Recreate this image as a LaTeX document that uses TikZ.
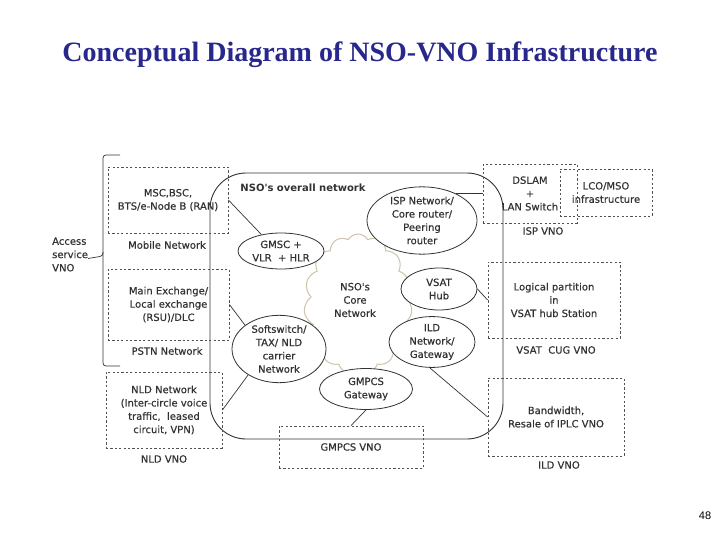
\documentclass[tikz,border=0pt]{standalone}
\usepackage{fontspec}
\setmainfont{Liberation Serif}
\newfontfamily\lab[FakeBold=0.5]{DejaVu Sans}
\newfontfamily\labb{DejaVu Sans}
\newfontfamily\pnum{Liberation Sans}
\usetikzlibrary{shapes.geometric,shapes.symbols}
\definecolor{titleblue}{RGB}{40,40,140}
\definecolor{ink}{RGB}{50,50,50}
\definecolor{cloudc}{RGB}{205,196,170}
\begin{document}
\begin{tikzpicture}[x=1pt,y=-1pt,
  lbl/.style={font=\lab\fontsize{10}{13.3}\selectfont, text=ink, align=center, inner sep=0pt},
  dbox/.style={lbl, draw=ink!85, dashed, dash pattern=on 2.2pt off 2.2pt, line width=0.8pt, rectangle},
  ell/.style={lbl, ellipse, draw=ink, fill=white, line width=0.8pt},
  wire/.style={draw=ink, line width=0.7pt}]
\useasboundingbox (0,0) rectangle (720,540);
% title
\node[font=\fontsize{28}{32}\selectfont\bfseries, text=titleblue, inner sep=0pt] (title) at (360,55) {Conceptual Diagram of NSO-VNO Infrastructure};
% big rounded frame
\node[draw=ink, line width=0.9pt, rounded corners=36pt, minimum width=293pt, minimum height=266pt, inner sep=0pt] (nso) at (356.5,306) {};
\node[lbl, font=\labb\bfseries\fontsize{10}{12}\selectfont] (nsolbl) at (303,188) {NSO's overall network};
% cloud
\node[cloud, cloud puffs=15, cloud puff arc=120, aspect=0.78, draw=cloudc, fill=white, line width=1pt, minimum width=108pt, minimum height=140pt, inner sep=0pt] (core) at (358,304) {};
\node[lbl] (corelbl) at (355,300) {NSO's\\Core\\Network};
% ellipses
\node[ell, minimum width=86pt, minimum height=36pt] (gmsc) at (281,251) {GMSC +\\VLR\ \ + HLR};
\node[ell, minimum width=110pt, minimum height=61pt] (isp) at (422,220.5) {ISP Network/\\Core router/\\Peering\\router};
\node[ell, minimum width=76pt, minimum height=42pt] (vsat) at (439,289) {VSAT\\Hub};
\node[ell, minimum width=86pt, minimum height=44pt] (ild) at (432,342) {ILD\\Network/\\Gateway};
\node[ell, minimum width=94pt, minimum height=57pt] (soft) at (279,349) {Softswitch/\\TAX/ NLD\\carrier\\Network};
\node[ell, minimum width=93pt, minimum height=41pt] (gmpcs) at (366,389) {GMPCS\\Gateway};
% left boxes
\node[dbox, minimum width=120pt, minimum height=66pt] (mob) at (168,200) {MSC,BSC,\\BTS/e-Node B (RAN)};
\node[lbl] (mobl) at (167,245) {Mobile Network};
\node[dbox, minimum width=121pt, minimum height=71pt] (pstn) at (168.5,304.5) {Main Exchange/\\Local exchange\\(RSU)/DLC};
\node[lbl] (pstnl) at (167,351) {PSTN Network};
\node[dbox, minimum width=116pt, minimum height=76pt] (nld) at (164,410) {NLD Network\\(Inter-circle voice\\traffic,\ \ leased\\circuit, VPN)};
\node[lbl] (nldl) at (164,459) {NLD VNO};
% access bracket
\node[lbl, align=left, anchor=west] (acc) at (52,254.5) {Access\\service\\VNO};
\draw[wire, rounded corners=3pt] (120,155) -- (103,155) -- (103,256) -- (88,258.5);
\draw[wire, rounded corners=3pt] (103,252) -- (103,366) -- (120,366);
% right boxes
\node[dbox, minimum width=94pt, minimum height=59pt] (dslam) at (530,193.5) {DSLAM\\+\\LAN Switch};
\node[lbl] (ispl) at (543,231) {ISP VNO};
\node[dbox, minimum width=92pt, minimum height=47pt] (lco) at (606,192.5) {LCO/MSO\\infrastructure};
\node[dbox, minimum width=132pt, minimum height=76pt] (vsatb) at (554,300) {Logical partition\\in\\VSAT hub Station};
\node[lbl] (vsatl) at (556,350) {VSAT\ \ CUG VNO};
\node[dbox, minimum width=136pt, minimum height=78pt] (ildb) at (556,417) {Bandwidth,\\Resale of IPLC VNO};
\node[lbl] (ildl) at (559,465) {ILD VNO};
\node[dbox, minimum width=144pt, minimum height=42pt] (gmpcsv) at (351,447) {GMPCS VNO};
% connectors
\draw[wire] (mob.east) -- (gmsc.140);
\draw[wire] (pstn.east) -- (soft.145);
\draw[wire] (nld.east) -- (soft.220);
\draw[wire] (isp.38) -- (isp.38 -| dslam.west);
\draw[wire] (vsat.east) -- (vsatb.west);
\draw[wire] (ild.265) -- (ildb.west);
\draw[wire] (gmpcs.south) -- (gmpcsv.north);
% page number
\node[font=\pnum\fontsize{11}{13}\selectfont, inner sep=0pt] (pg) at (705,516) {48};
\end{tikzpicture}
\end{document}
